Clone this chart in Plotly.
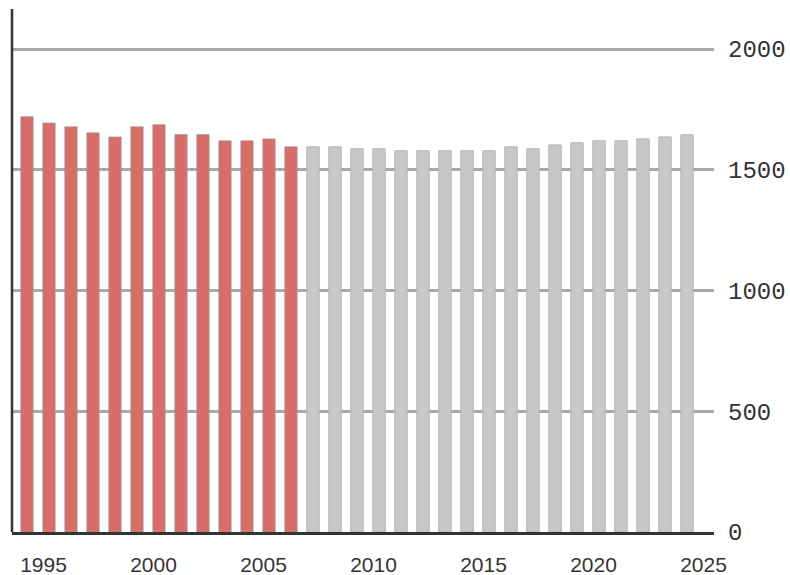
import plotly.graph_objects as go

# valores
anos_hist = list(range(1994, 2007))
valores_hist = [1720, 1694, 1678, 1653, 1636, 1678, 1687, 1646, 1646, 1620, 1620, 1628, 1595]

anos_proj = list(range(2007, 2025))
valores_proj = [1595, 1595, 1587, 1587, 1579, 1579, 1579, 1579, 1579, 1595, 1587, 1603,
                1612, 1620, 1620, 1628, 1636, 1645]

anos_ticks = [1995, 2000, 2005, 2010, 2015, 2020, 2025]
valores_ticks = [0, 500, 1000, 1500, 2000]

fig = go.Figure()

fig.add_trace(go.Bar(
    x=anos_hist,
    y=valores_hist,
    width=0.56,
    offset=-0.03,
    marker_color='#d86d6a',
    marker_line=dict(color='rgba(160,150,150,0.7)', width=1),
    hoverinfo='x+y'
))

fig.add_trace(go.Bar(
    x=anos_proj,
    y=valores_proj,
    width=0.56,
    offset=-0.03,
    marker_color='#c8c8c8',
    marker_line=dict(color='#b2b2b2', width=1),
    hoverinfo='x+y'
))

fig.update_layout(
    width=790,
    height=575,
    margin=dict(l=12, r=76, t=9, b=43),
    paper_bgcolor='white',
    plot_bgcolor='white',
    showlegend=False,
    barmode='overlay',
    xaxis=dict(
        range=[1993.568, 2025.477],
        tickvals=anos_ticks,
        ticktext=[str(a) for a in anos_ticks],
        tickfont=dict(family='Liberation Sans, Arial', size=21, color='#333'),
        showgrid=False,
        zeroline=False,
        showline=True,
        linecolor='#333',
        linewidth=2.5,
        ticks='',
        ticklabelstandoff=12,
        automargin=False
    ),
    yaxis=dict(
        range=[0, 2166],
        side='right',
        tickvals=valores_ticks,
        ticktext=[str(v) for v in valores_ticks],
        tickfont=dict(family='Liberation Mono, Courier New', size=24, color='#333'),
        showgrid=True,
        gridcolor='#a8a8a8',
        gridwidth=2.5,
        zeroline=False,
        showline=False,
        ticks='',
        ticklabelstandoff=13,
        automargin=False
    ),
    shapes=[dict(
        type='line', xref='paper', yref='paper',
        x0=0, x1=0, y0=0, y1=1,
        line=dict(color='#333', width=2.5)
    )]
)

# sem margem da página, para o gráfico ocupar a janela toda
fig.write_html("out.html", config={'displayModeBar': False},
               post_script="document.body.style.margin='0';")
